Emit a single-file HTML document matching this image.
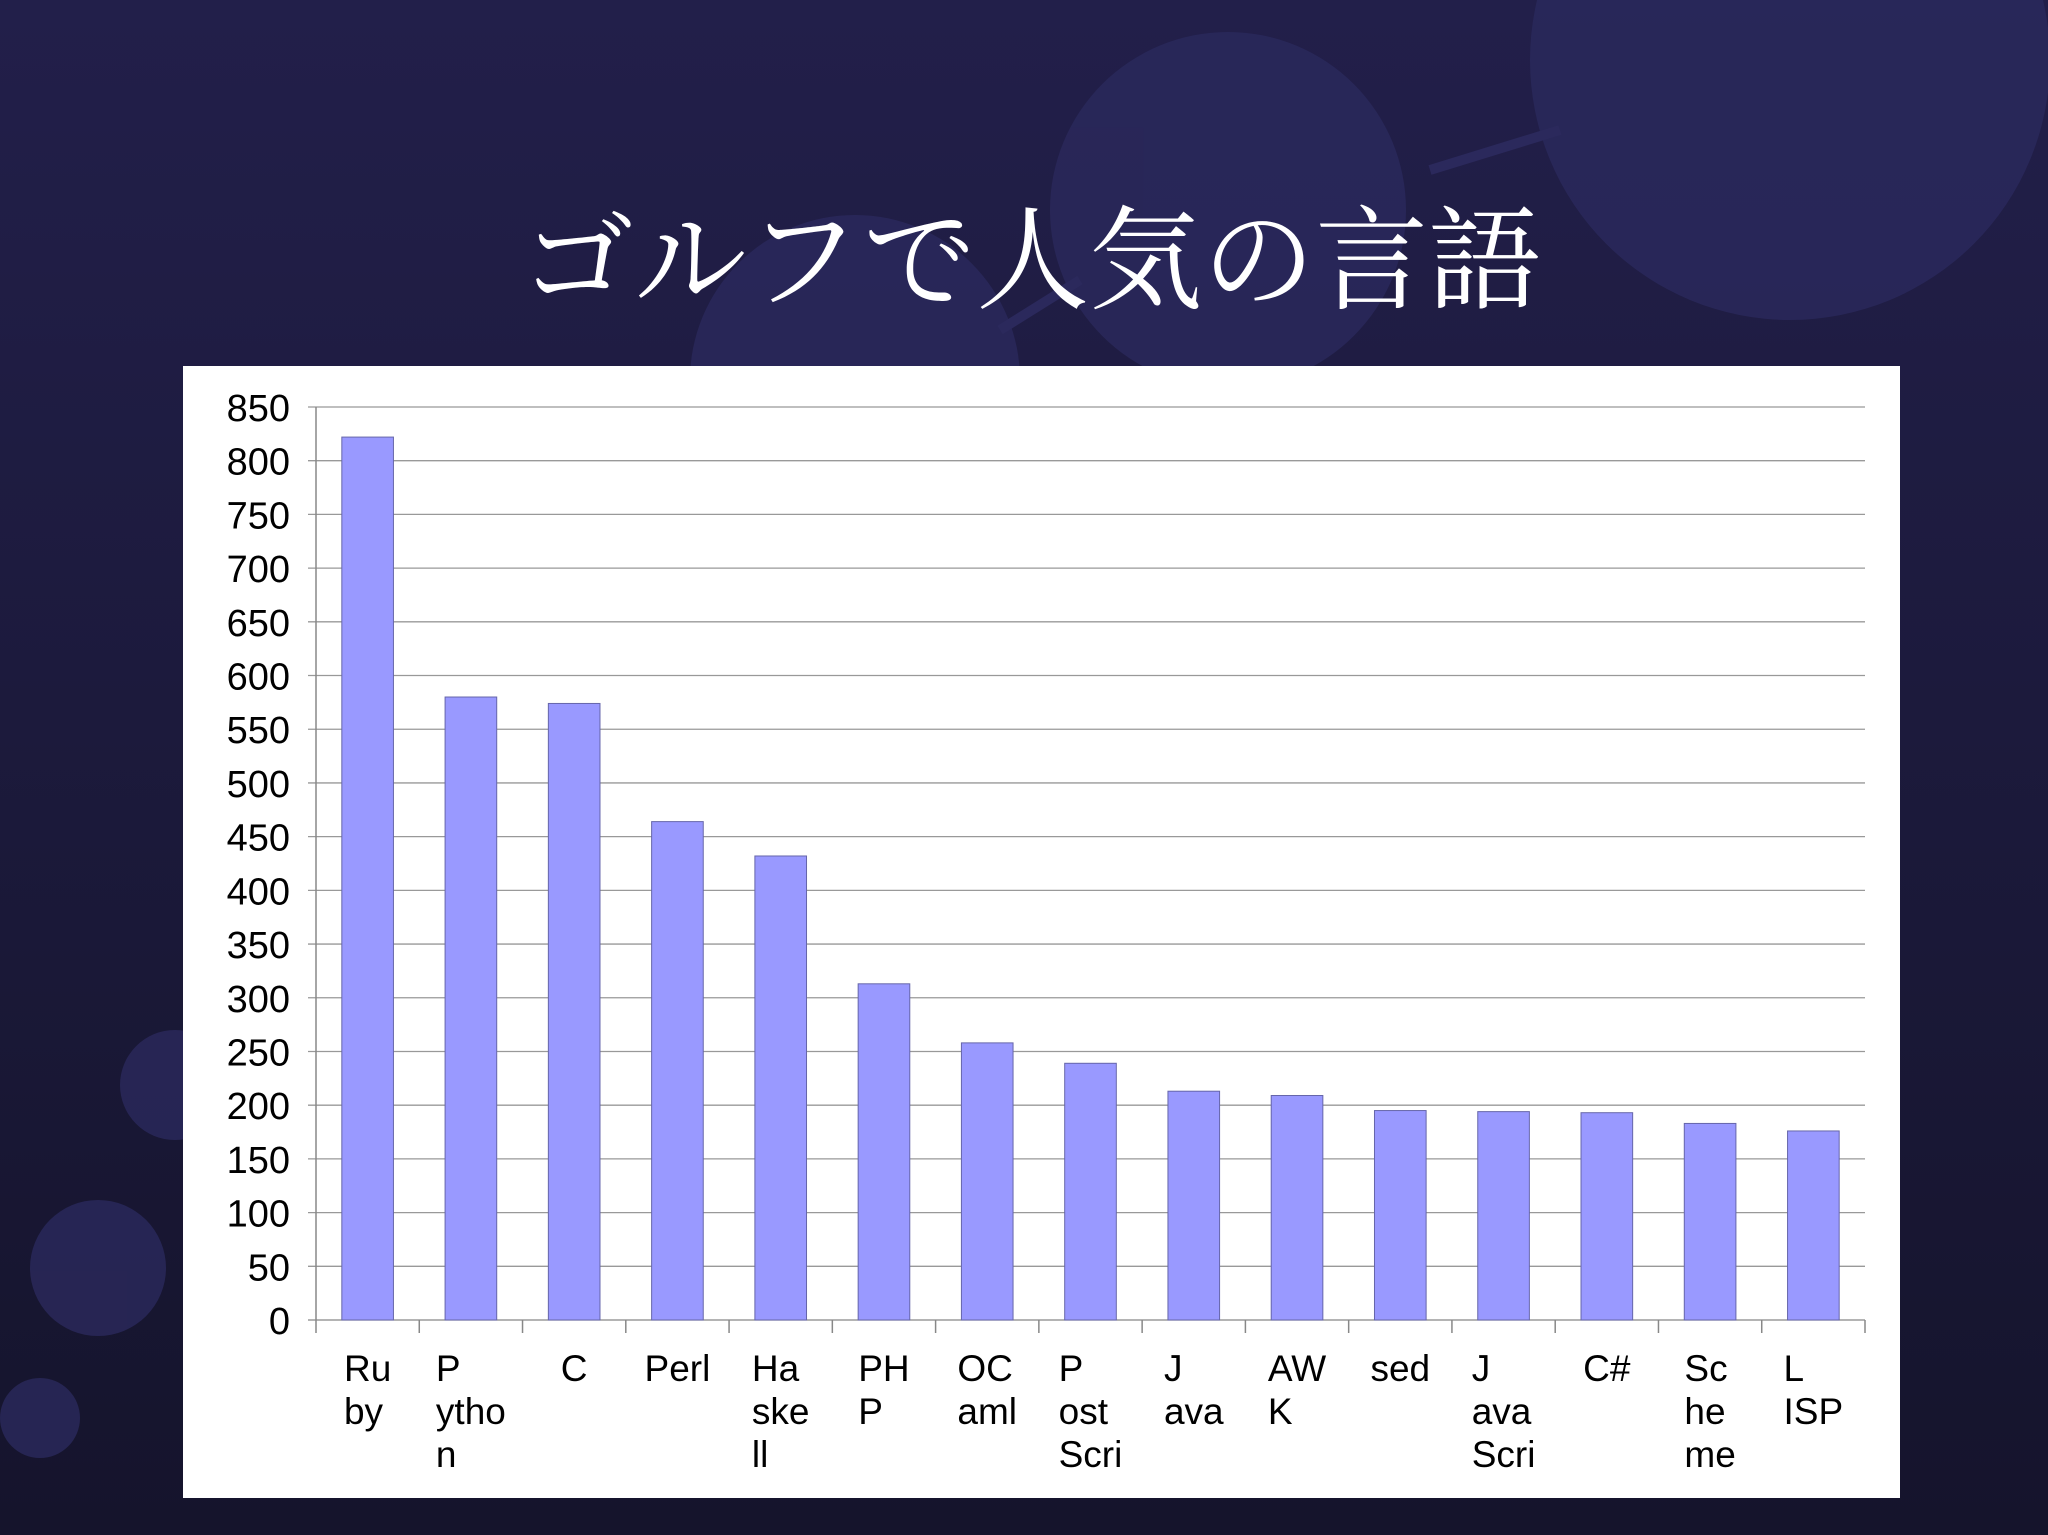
<!DOCTYPE html>
<html><head><meta charset="utf-8"><style>
html,body{margin:0;padding:0}
body{width:2048px;height:1535px;overflow:hidden;background:#1b1938;position:relative;font-family:"Liberation Sans",sans-serif}
.lbl{position:absolute;top:1347px;font-size:37px;line-height:43px;color:#000;text-align:left;white-space:pre}
</style></head><body>
<svg width="2048" height="1535" style="position:absolute;left:0;top:0">
<defs><linearGradient id="bg" x1="0" y1="0" x2="0" y2="1"><stop offset="0" stop-color="#221f4a"/><stop offset="1" stop-color="#15142c"/></linearGradient></defs>
<rect width="2048" height="1535" fill="url(#bg)"/>
<g fill="#2b295c" opacity="0.8">
<circle cx="1790" cy="60" r="260"/>
<circle cx="1228" cy="210" r="178"/>
<circle cx="855" cy="380" r="165"/>
<circle cx="175" cy="1085" r="55"/>
<circle cx="98" cy="1268" r="68"/>
<circle cx="40" cy="1418" r="40"/>
</g>
<line x1="1430" y1="170" x2="1560" y2="130" stroke="#2b295c" stroke-width="10"/>
<line x1="1000" y1="330" x2="1080" y2="280" stroke="#2b295c" stroke-width="10"/>
</svg>
<div style="position:absolute;left:0;width:2062px;top:198px;text-align:center;font-family:'Liberation Serif','Noto Serif CJK SC',serif;font-size:113px;color:#fff;line-height:130px">ゴルフで人気の言語</div>
<div style="position:absolute;left:183px;top:366px;width:1717px;height:1132px;background:#fff"></div>
<svg id="chart" width="2048" height="1535" style="position:absolute;left:0;top:0"></svg>
<div id="labels"></div>
<script>
const categories=["Ru\nby","P\nytho\nn","C","Perl","Ha\nske\nll","PH\nP","OC\naml","P\nost\nScri","J\nava","AW\nK","sed","J\nava\nScri","C#","Sc\nhe\nme","L\nISP"];
const values=[822,580,574,464,432,313,258,239,213,209,195,194,193,183,176];
const yTicks=[0,50,100,150,200,250,300,350,400,450,500,550,600,650,700,750,800,850];
const NS="http://www.w3.org/2000/svg";
const svg=document.getElementById('chart');
const x0=316,x1=1865,yBase=1320,yTop=407,yMax=850;
const bw=(x1-x0)/categories.length;
const y=v=>yBase-(v/yMax)*(yBase-yTop);
function mk(t,a){const e=document.createElementNS(NS,t);for(const k in a)e.setAttribute(k,a[k]);svg.appendChild(e);return e;}
yTicks.forEach(t=>{
  const g=mk('line',{x1:x0-8,x2:x1,y1:y(t),y2:y(t),stroke:t===0?'#888':'#999','stroke-width':1.3});
  
  
  const tx=mk('text',{x:290,y:y(t)+14,'text-anchor':'end','font-size':38,'font-family':'Liberation Sans, sans-serif',fill:'#000'});
  tx.textContent=t;
  
  
});
const ax=mk('line',{x1:x0,x2:x0,y1:yTop,y2:yBase,stroke:'#888','stroke-width':1.5});


for(let i=0;i<=categories.length;i++){
  const tk=mk('line',{x1:x0+i*bw,x2:x0+i*bw,y1:yBase,y2:yBase+13,stroke:'#888','stroke-width':1.5});
  
  
}
const lab=document.getElementById('labels');
values.forEach((v,i)=>{
  const w=bw*0.5, cx=x0+(i+0.5)*bw;
  const r=mk('rect',{x:cx-w/2,y:y(v),width:w,height:yBase-y(v),fill:'#9999ff',stroke:'#6666aa','stroke-width':1});
  
  
  const d=document.createElement('div');
  d.className='lbl';
  d.textContent=categories[i];
  
  
  lab.appendChild(d);
  const ww=d.getBoundingClientRect().width;
  d.style.left=(cx-ww/2)+'px';
});
</script>
</body></html>
